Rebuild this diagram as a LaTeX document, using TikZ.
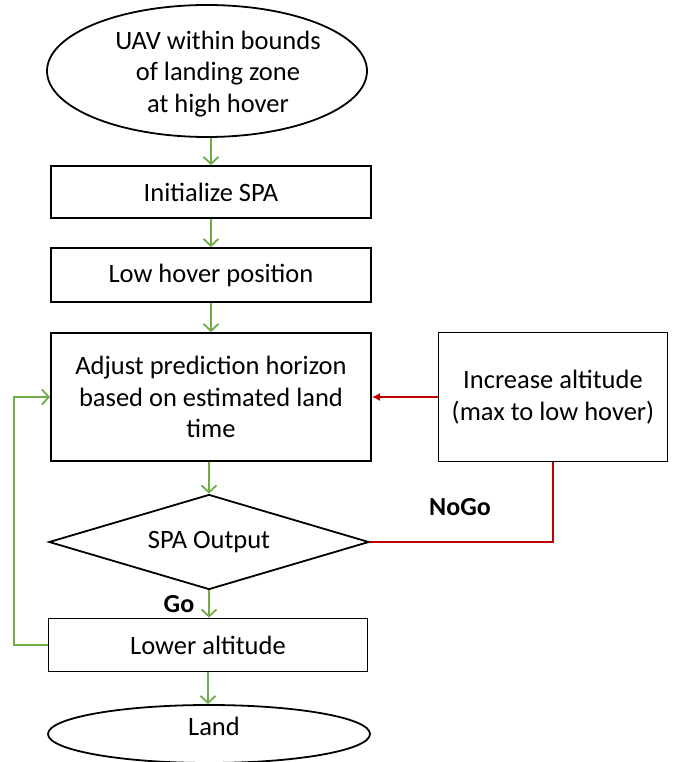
\documentclass[tikz,border=0pt]{standalone}
\usepackage{fontspec}
\setmainfont{Carlito}
\usetikzlibrary{shapes.geometric,arrows.meta}
\definecolor{grn}{HTML}{70AD47}
\definecolor{rd}{HTML}{C00000}
\begin{document}
\begin{tikzpicture}[x=1pt,y=-1pt,
  txt/.style={font=\fontsize{26.5}{31.5}\selectfont,align=center},
  box/.style={txt,draw=black,line width=1.8pt,rectangle,minimum width=320pt,inner sep=0pt},
  oval/.style={txt,draw=black,line width=1.8pt,ellipse,inner sep=0pt},
  dec/.style={txt,draw=black,line width=1.8pt,diamond,aspect=3.37,inner sep=0pt,minimum width=320pt,minimum height=95pt},
  garrow/.style={draw=grn,line width=1.8pt,-{Straight Barb[length=7pt,width=15pt,line width=1.8pt]}},
  gline/.style={draw=grn,line width=1.8pt},
  rarrow/.style={draw=rd,line width=1.5pt,-{Latex[length=8pt,width=8pt]}},
  rline/.style={draw=rd,line width=1.5pt},
  lbl/.style={font=\fontsize{26}{30}\selectfont\bfseries}]
\useasboundingbox (0,0) rectangle (686,762);
\clip (0,0) rectangle (686,762);
\node[oval,minimum width=320pt,minimum height=132pt] (top) at (207,71) {};
\node[txt] (toptext) at (218,74) {UAV within bounds\\of landing zone\\at high hover};
\node[box,minimum height=52pt] (init) at (211,192) {Initialize SPA};
\node[box,minimum height=54pt] (low) at (211,275) {Low hover position};
\node[box,minimum height=128pt] (adjust) at (211,397) {Adjust prediction horizon\\based on estimated land\\time};
\node[box,minimum width=229pt,minimum height=129pt] (inc) at (553,397) {Increase altitude\\(max to low hover)};
\node[dec] (spa) at (209,542) {SPA Output};
\node[box,minimum width=319pt,minimum height=53pt] (lower) at (208,645) {Lower altitude};
\node[oval,minimum width=322pt,minimum height=58pt] (land) at (209,734) {};
\node[txt] (landtext) at (214,726) {Land};
\node[lbl] (go) at (179,604) {Go};
\node[lbl] (nogo) at (460,507) {NoGo};
\draw[garrow] (init.north |- top.south) -- (init.north);
\draw[garrow] (init.south) -- (low.north);
\draw[garrow] (low.south) -- (adjust.north);
\draw[garrow] (adjust.south -| spa.north) -- (spa.north);
\draw[garrow] (spa.south) -- (spa.south |- lower.north);
\draw[garrow] (lower.south) -- (lower.south |- land.north);
\draw[garrow] (lower.west) -- ++(-34,0) |- (adjust.west);
\draw[rarrow] (inc.west) -- (adjust.east);
\draw[rline] (inc.south) |- (spa.east);
\end{tikzpicture}
\end{document}
